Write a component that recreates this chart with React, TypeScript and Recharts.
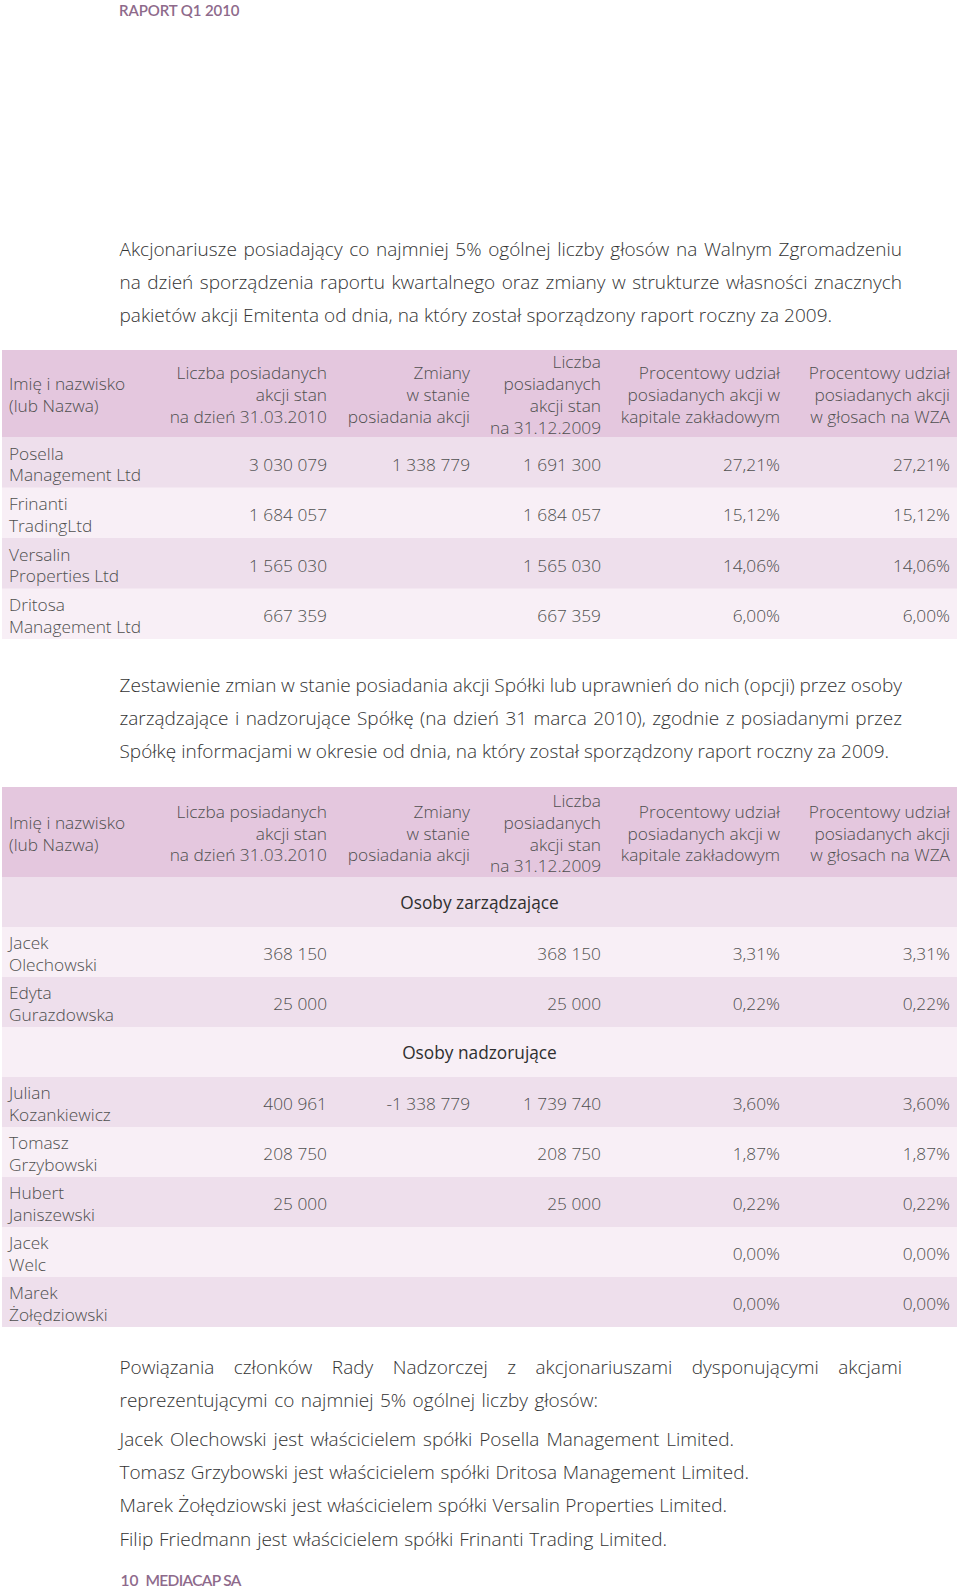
import React from 'react';
import { BarChart, Bar, XAxis, YAxis, Surface } from 'recharts';

// ---------------- DATA ----------------
const pageTitle = 'RAPORT Q1 2010';
const footerNumber = '10';
const footerName = 'MEDIACAP SA';

const introLines = [
  'Akcjonariusze posiadający co najmniej 5% ogólnej liczby głosów na Walnym Zgromadzeniu',
  'na dzień sporządzenia raportu kwartalnego oraz zmiany w strukturze własności znacznych',
  'pakietów akcji Emitenta od dnia, na który został sporządzony raport roczny za 2009.',
];
const changesLines = [
  'Zestawienie zmian w stanie posiadania akcji Spółki lub uprawnień do nich (opcji) przez osoby',
  'zarządzające i nadzorujące Spółkę (na dzień 31 marca 2010), zgodnie z posiadanymi przez',
  'Spółkę informacjami w okresie od dnia, na który został sporządzony raport roczny za 2009.',
];
const relationLines = [
  'Powiązania członków Rady Nadzorczej z akcjonariuszami dysponującymi akcjami',
  'reprezentującymi co najmniej 5% ogólnej liczby głosów:',
  'Jacek Olechowski jest właścicielem spółki Posella Management Limited.',
  'Tomasz Grzybowski jest właścicielem spółki Dritosa Management Limited.',
  'Marek Żołędziowski jest właścicielem spółki Versalin Properties Limited.',
  'Filip Friedmann jest właścicielem spółki Frinanti Trading Limited.',
];

const headerLabels: string[][] = [
  ['Imię i nazwisko', '(lub Nazwa)'],
  ['Liczba posiadanych', 'akcji stan', 'na dzień 31.03.2010'],
  ['Zmiany', 'w stanie', 'posiadania akcji'],
  ['Liczba', 'posiadanych', 'akcji stan', 'na 31.12.2009'],
  ['Procentowy udział', 'posiadanych akcji w', 'kapitale zakładowym'],
  ['Procentowy udział', 'posiadanych akcji', 'w głosach na WZA'],
];

// Table 1: shareholders >= 5%
const holderNames = ['Posella Management Ltd', 'Frinanti TradingLtd', 'Versalin Properties Ltd', 'Dritosa Management Ltd'];
const holderShares2010 = [3030079, 1684057, 1565030, 667359];
const holderChange: (number | null)[] = [1338779, null, null, null];
const holderShares2009 = [1691300, 1684057, 1565030, 667359];
const holderCapitalPct = [27.21, 15.12, 14.06, 6.0];
const holderVotesPct = [27.21, 15.12, 14.06, 6.0];

// Table 2: management & supervisory board
const sectionLabels = ['Osoby zarządzające', 'Osoby nadzorujące'];
const mgmtNames = ['Jacek Olechowski', 'Edyta Gurazdowska'];
const mgmtShares2010: (number | null)[] = [368150, 25000];
const mgmtChange: (number | null)[] = [null, null];
const mgmtShares2009: (number | null)[] = [368150, 25000];
const mgmtCapitalPct = [3.31, 0.22];
const mgmtVotesPct = [3.31, 0.22];

const supNames = ['Julian Kozankiewicz', 'Tomasz Grzybowski', 'Hubert Janiszewski', 'Jacek Welc', 'Marek Żołędziowski'];
const supShares2010: (number | null)[] = [400961, 208750, 25000, null, null];
const supChange: (number | null)[] = [-1338779, null, null, null, null];
const supShares2009: (number | null)[] = [1739740, 208750, 25000, null, null];
const supCapitalPct = [3.6, 1.87, 0.22, 0.0, 0.0];
const supVotesPct = [3.6, 1.87, 0.22, 0.0, 0.0];

// ---------------- STYLE / LAYOUT ----------------
const TABLE_FONT = '"Open Sans", "Noto Sans", sans-serif';
const TABLE_WEIGHT = 300;
const TEXT_FONT_FAMILY = '"Open Sans"';
const TEXT_FONT = '"Open Sans", Lato, sans-serif';
const TEXT_SIZE = 19;
const TEXT_WEIGHT = 300;
const TITLE_FONT = 'Lato, "Open Sans", sans-serif';
const TABLE_SIZE = 17.3;
const TABLE_COLOR = '#4f4f4f';
const SECTION_COLOR = '#2f2f2f';
const PARA_COLOR = '#333333';
const PURPLE = '#8e6a8b';
const HEADER_FILL = '#e4c7de';
const ROW_DARK = '#eedfec';
const ROW_LIGHT = '#f8eff6';

const TABLE_X = 2;
const TABLE_W = 955;
const NAME_X = 7;
const COL_RIGHT = [325, 468, 599, 778, 948];
const PARA_X = 119.5;

// ---------------- HELPERS ----------------
const fmtInt = (n: number | null) => {
  if (n === null || n === undefined) return '';
  const s = Math.abs(n).toString().replace(/\B(?=(\d{3})+(?!\d))/g, ' ');
  return (n < 0 ? '-' : '') + s;
};
const fmtPct = (n: number | null) => (n === null ? '' : n.toFixed(2).replace('.', ',') + '%');

let measureCtx: CanvasRenderingContext2D | null = null;
const measure = (text: string, font: string) => {
  if (!measureCtx && typeof document !== 'undefined') {
    measureCtx = document.createElement('canvas').getContext('2d');
  }
  if (!measureCtx) return 0;
  measureCtx.font = font;
  return measureCtx.measureText(text).width;
};
const wordSpacingFor = (text: string, target: number) => {
  const w = measure(text, `${TEXT_WEIGHT} ${TEXT_SIZE}px ${TEXT_FONT_FAMILY}`);
  const gaps = (text.match(/ /g) || []).length;
  if (!w || !gaps) return 0;
  return (target - w) / gaps;
};

type Row = {
  kind: 'header' | 'section' | 'item';
  idx: number;
  name?: string;
  label?: string;
  cells?: string[];
};

const buildItems = (
  names: string[],
  s2010: (number | null)[],
  change: (number | null)[],
  s2009: (number | null)[],
  cap: number[],
  votes: number[],
  startIdx: number,
): Row[] =>
  names.map((name, i) => ({
    kind: 'item',
    idx: startIdx + i,
    name,
    cells: [fmtInt(s2010[i]), fmtInt(change[i]), fmtInt(s2009[i]), fmtPct(cap[i]), fmtPct(votes[i])],
  }));

const table1Rows: Row[] = buildItems(
  holderNames, holderShares2010, holderChange, holderShares2009, holderCapitalPct, holderVotesPct, 0,
);
const table2Rows: Row[] = [
  { kind: 'section', idx: 0, label: sectionLabels[0] },
  ...buildItems(mgmtNames, mgmtShares2010, mgmtChange, mgmtShares2009, mgmtCapitalPct, mgmtVotesPct, 1),
  { kind: 'section', idx: 3, label: sectionLabels[1] },
  ...buildItems(supNames, supShares2010, supChange, supShares2009, supCapitalPct, supVotesPct, 4),
];
const headerRows: Row[] = [{ kind: 'header', idx: 0 }];

// ---------------- ROW SHAPE ----------------
const RowShape = (props: any) => {
  const { x, y, width, height, payload } = props;
  const row = payload as Row;
  const cy = y + height / 2;
  const common = { fontFamily: TABLE_FONT, fontSize: TABLE_SIZE, fontWeight: TABLE_WEIGHT, fill: TABLE_COLOR };
  if (row.kind === 'header') {
    return (
      <g>
        <rect x={x} y={y} width={width} height={height} fill={HEADER_FILL} />
        {headerLabels.map((lines, c) =>
          lines.map((ln, i) => (
            <text
              key={`${c}-${i}`}
              {...common}
              x={c === 0 ? x + NAME_X : x + COL_RIGHT[c - 1]}
              y={cy + 7.6 + (i - (lines.length - 1) / 2) * 21.8}
              textAnchor={c === 0 ? 'start' : 'end'}
            >
              {ln}
            </text>
          )),
        )}
      </g>
    );
  }
  const fill = row.idx % 2 === 0 ? ROW_DARK : ROW_LIGHT;
  if (row.kind === 'section') {
    return (
      <g>
        <rect x={x} y={y} width={width} height={height + 1} fill={fill} />
        <text {...common} fontWeight={400} fill={SECTION_COLOR} x={x + width / 2} y={cy + 7} textAnchor="middle">
          {row.label}
        </text>
      </g>
    );
  }
  const name = row.name || '';
  const sp = name.indexOf(' ');
  const nameLines = sp > 0 ? [name.slice(0, sp), name.slice(sp + 1)] : [name];
  return (
    <g>
      <rect x={x} y={y} width={width} height={height + 1} fill={fill} />
      {nameLines.map((ln, i) => (
        <text key={`n${i}`} {...common} x={x + NAME_X} y={cy - 3 + i * 21.5}>
          {ln}
        </text>
      ))}
      {(row.cells || []).map((v, c) =>
        v ? (
          <text key={`c${c}`} {...common} x={x + COL_RIGHT[c]} y={cy + 8} textAnchor="end">
            {v}
          </text>
        ) : null,
      )}
    </g>
  );
};

const TableBand = ({
  rows,
  top,
  height,
  extraBottom = 0,
}: {
  rows: Row[];
  top: number;
  height: number;
  extraBottom?: number;
}) => (
  <div style={{ position: 'absolute', left: TABLE_X, top, width: TABLE_W, height: height + extraBottom }}>
    <BarChart
      width={TABLE_W}
      height={height + extraBottom}
      data={rows}
      layout="vertical"
      margin={{ top: 0, right: 0, bottom: extraBottom, left: 0 }}
      barCategoryGap={0}
    >
      <XAxis type="number" domain={[0, 1]} hide />
      <YAxis type="category" dataKey="idx" hide />
      <Bar dataKey={() => 1} isAnimationActive={false} shape={RowShape} />
    </BarChart>
  </div>
);

const Paragraph = ({ lines, ends, baselines }: { lines: string[]; ends: number[]; baselines: number[] }) => (
  <g>
    {lines.map((t, i) => (
      <text
        key={i}
        x={PARA_X}
        y={baselines[i]}
        fontFamily={TEXT_FONT}
        fontSize={TEXT_SIZE}
        fontWeight={TEXT_WEIGHT}
        fill={PARA_COLOR}
        style={{ wordSpacing: `${wordSpacingFor(t, ends[i] - PARA_X)}px` }}
      >
        {t}
      </text>
    ))}
  </g>
);

export default function App() {
  return (
    <div style={{ position: 'absolute', left: 0, top: 0, width: 960, height: 1592, background: '#ffffff' }}>
      <div style={{ position: 'absolute', left: 0, top: 0 }}>
        <Surface width={960} height={1592}>
          <text
            x={119}
            y={15.5}
            fontFamily={TITLE_FONT}
            fontSize={15}
            fontWeight={600}
            fill={PURPLE}
            textLength={120.5}
            lengthAdjust="spacing"
          >
            {pageTitle}
          </text>
          <Paragraph lines={introLines} ends={[902, 902, 832]} baselines={[256, 289, 322]} />
          <Paragraph lines={changesLines} ends={[902, 902, 889]} baselines={[691.5, 724.5, 757.5]} />
          <Paragraph
            lines={relationLines}
            ends={[902, 598, 734, 749, 727, 667]}
            baselines={[1373.5, 1406.5, 1445.5, 1478.5, 1512, 1545.5]}
          />
          <text x={120.5} y={1586} fontFamily={TITLE_FONT} fontSize={15.5} fontWeight={600} fill={PURPLE}>
            {footerNumber}
          </text>
          <text
            x={145.5}
            y={1586}
            fontFamily={TITLE_FONT}
            fontSize={15.5}
            fontWeight={600}
            fill={PURPLE}
            textLength={96}
            lengthAdjust="spacing"
          >
            {footerName}
          </text>
        </Surface>
      </div>
      <TableBand rows={headerRows} top={350} height={87} extraBottom={8} />
      <TableBand rows={table1Rows} top={437} height={202} />
      <TableBand rows={headerRows} top={787} height={90} extraBottom={8} />
      <TableBand rows={table2Rows} top={877} height={450} />
    </div>
  );
}
